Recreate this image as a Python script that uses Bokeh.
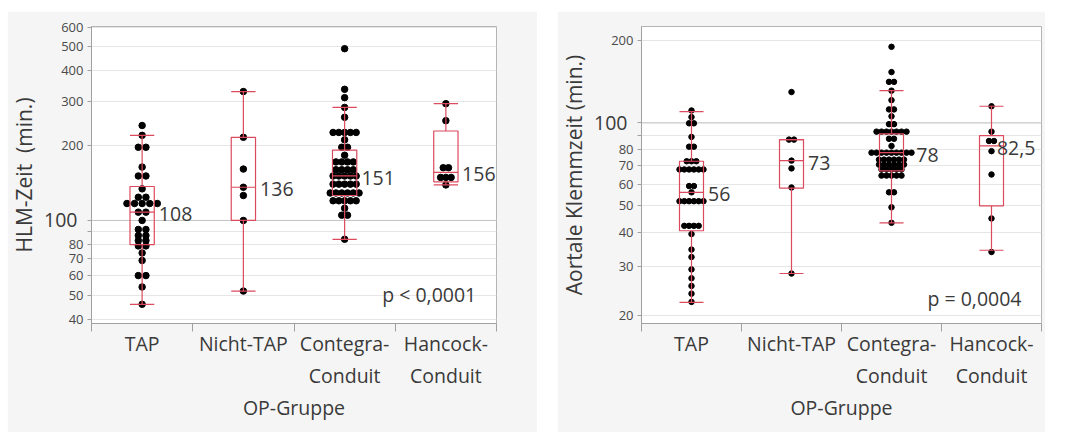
from bokeh.plotting import figure
from bokeh.models import FixedTicker, Span, Label, ColumnDataSource, Spacer, LogAxis
from bokeh.layouts import row, column
from bokeh.embed import file_html
from bokeh.resources import INLINE
from bokeh.core.properties import value
import math

# Groups (x axis)
groups = ["TAP", "Nicht-TAP", "Contegra-\nConduit", "Hancock-\nConduit"]

# HLM-Zeit (min.) per group
hlm_tap = [241, 220, 197, 197, 164, 151, 151, 134, 124, 124, 117, 117, 117, 117, 117,
           108, 108, 100, 92, 92, 87, 87, 83, 83, 79, 79, 74, 69, 60, 60, 54, 46]
hlm_nicht_tap = [330, 216, 161, 136, 126, 100, 52]
hlm_contegra = [491, 337, 312, 285, 260, 226, 226, 226, 226, 226, 211, 197, 197, 183,
                172, 172, 172, 172, 160, 160, 160, 160, 151, 151, 151, 151, 151,
                140, 140, 140, 140, 140, 129, 129, 129, 129, 129, 129,
                120, 120, 120, 120, 120, 112, 105, 105, 84]
hlm_hancock = [295, 252, 163, 163, 149, 149, 149, 139]

# Box statistics HLM: lower whisker, Q1, median, Q3, upper whisker
hlm_low = [46, 52, 84, 139]
hlm_q1 = [80, 100, 126, 143]
hlm_median = [108, 136, 151, 156]
hlm_q3 = [137, 216, 192, 229]
hlm_high = [220, 330, 285, 295]
hlm_median_text = ["108", "136", "151", "156"]
hlm_ticks = [40, 50, 60, 70, 80, 90, 100, 200, 300, 400, 500, 600]

# Aortale Klemmzeit (min.) per group
akz_tap = [111, 105, 99.7, 99.7, 89, 82, 82, 72.6, 72.6, 72.6,
           67.8, 67.8, 67.8, 67.8, 67.8, 67.8, 59, 59, 56,
           52, 52, 52, 52, 52, 52, 42.3, 42.3, 42.3, 42.3,
           39.5, 34.7, 32.6, 29.4, 27.3, 25.6, 24, 22.4]
akz_nicht_tap = [129.5, 87, 87, 73, 68.4, 58.3, 28.4]
akz_contegra = [189, 153, 141, 141, 131, 121, 112, 112, 105.7, 99, 99,
                93, 93, 93, 93, 93, 93, 93, 87.6, 87.6, 82.5,
                78, 78, 78, 78, 78, 78, 78, 78, 78,
                73.6, 73.6, 73.6, 73.6, 73.6, 73.6,
                70.6, 70.6, 70.6, 70.6, 70.6, 70.6,
                67.8, 67.8, 67.8, 67.8, 67.8,
                64.4, 64.4, 64.4, 64.4, 64.4, 56, 56, 49.4, 43.4]
akz_hancock = [115, 93, 86, 86, 79, 65, 45, 34]

akz_low = [22.3, 28.4, 43.4, 34.5]
akz_q1 = [40.6, 58, 67, 50]
akz_median = [56, 73, 78, 82.5]
akz_q3 = [72.6, 87, 91.3, 90]
akz_high = [110, 87, 131, 115]
akz_median_text = ["56", "73", "78", "82,5"]
akz_ticks = [20, 30, 40, 50, 60, 70, 80, 90, 100, 200]

FONT = "Open Sans"
TEXT = "#3a3a3a"
BOX = "#dc4a5e"
PANEL = "#f5f5f5"
FS = "19.5px"
FS_PX = 19.5
HEIGHT = 421


def swarm(samples, steps):
    """Spread equal values side by side around the group centre."""
    xs, ys = [], []
    for gi, vals in enumerate(samples):
        for v in sorted(set(vals)):
            n = vals.count(v)
            for k in range(n):
                xs.append(gi + 0.5 + (k - (n - 1) / 2) * steps[gi])
                ys.append(v)
    return xs, ys


def panel(samples, low, q1, med, q3, high, med_text, ticks, yrange, ylabel,
          ptext, ptext_y, width, borders, dot_size, steps):
    left, right, top, bottom = borders
    p = figure(width=width, height=HEIGHT, x_range=(0, 4), y_range=yrange,
               y_axis_type="log", output_backend="svg", toolbar_location=None,
               min_border_left=left, min_border_right=right,
               min_border_top=top, min_border_bottom=bottom,
               background_fill_color="white", border_fill_color=PANEL,
               outline_line_color="#b4b4b4")
    frame_w = width - left - right
    frame_h = HEIGHT - top - bottom

    # grid
    p.xgrid.visible = False
    p.ygrid.ticker = FixedTicker(ticks=ticks)
    p.ygrid.grid_line_color = "#e6e6e6"
    p.add_layout(Span(location=100, dimension="width", line_color="#c4c4c4",
                      line_width=1, level="underlay"))

    # y axis with the small tick labels
    ya = p.yaxis[0]
    ya.ticker = FixedTicker(ticks=ticks)
    overrides = {t: str(t) for t in ticks}
    overrides[90] = ""
    overrides[100] = ""
    ya.major_label_overrides = overrides
    ya.major_label_text_font = FONT
    ya.major_label_text_font_size = "13px"
    ya.major_label_text_color = "#4a4a4a"
    ya.major_label_standoff = 4
    ya.major_tick_out = 4
    ya.major_tick_in = 0
    ya.minor_tick_out = 0
    ya.minor_tick_in = 0
    ya.axis_line_color = "#a0a0a0"
    ya.major_tick_line_color = "#a0a0a0"

    # second y axis: the larger decade label 100 and the axis title
    big = LogAxis(ticker=FixedTicker(ticks=[100]))
    big.major_label_overrides = {100: "100"}
    big.major_label_text_font = FONT
    big.major_label_text_font_size = FS
    big.major_label_text_color = TEXT
    big.major_label_standoff = -19
    big.major_tick_out = 0
    big.major_tick_in = 0
    big.minor_tick_out = 0
    big.minor_tick_in = 0
    big.axis_line_color = None
    big.major_tick_line_color = None
    big.minor_tick_line_color = None
    big.axis_label = ylabel
    big.axis_label_text_font = FONT
    big.axis_label_text_font_size = "21px"
    big.axis_label_text_font_style = "normal"
    big.axis_label_text_color = TEXT
    big.axis_label_standoff = 3
    p.add_layout(big, "left")

    # x axis: labels in the group centres, ticks at the group borders
    xa = p.xaxis[0]
    xa.ticker = FixedTicker(ticks=[0.5, 1.5, 2.5, 3.5], minor_ticks=[0, 1, 2, 3, 4])
    xa.major_label_overrides = {i + 0.5: g for i, g in enumerate(groups)}
    xa.major_label_text_font = FONT
    xa.major_label_text_font_size = FS
    xa.major_label_text_color = TEXT
    xa.major_label_standoff = -2
    xa.major_tick_out = 0
    xa.major_tick_in = 0
    xa.minor_tick_out = 8
    xa.minor_tick_in = 0
    xa.minor_tick_line_color = "#a0a0a0"
    xa.axis_line_color = "#a0a0a0"
    xa.axis_label = "OP-Gruppe"
    xa.axis_label_text_font = FONT
    xa.axis_label_text_font_size = FS
    xa.axis_label_text_font_style = "normal"
    xa.axis_label_text_color = TEXT
    xa.axis_label_standoff = 2

    # points
    xs, ys = swarm(samples, steps)
    p.scatter(xs, ys, size=dot_size, color="black")

    # box plots
    cx = [i + 0.5 for i in range(4)]
    hw = 0.12
    # median text sits right of the box, or right of the dots in the median row,
    # and is kept inside the frame
    lo, hi = math.log10(yrange[0]), math.log10(yrange[1])
    tol = 4 / frame_h * (hi - lo)
    rad = dot_size / 2 / frame_w * 4
    tx = []
    for gi, c in enumerate(cx):
        edge = c + hw + 0.045
        for x, y in zip(xs, ys):
            if abs(x - c) < 0.5 and abs(math.log10(y) - math.log10(med[gi])) < tol:
                edge = max(edge, x + rad + 0.02)
        est_w = 0.52 * FS_PX * len(med_text[gi]) + 4
        edge = min(edge, 4 - est_w / frame_w * 4)
        tx.append(edge)
    src = ColumnDataSource(dict(
        x=cx, x0=[c - hw for c in cx], x1=[c + hw for c in cx],
        low=low, q1=q1, med=med, q3=q3, high=high, tx=tx, label=med_text))
    line = dict(source=src, line_color=BOX, line_width=1.2)
    p.quad(left="x0", right="x1", bottom="q1", top="q3", fill_alpha=0, **line)
    p.segment(x0="x", x1="x", y0="low", y1="q1", **line)
    p.segment(x0="x", x1="x", y0="q3", y1="high", **line)
    p.segment(x0="x0", x1="x1", y0="low", y1="low", **line)
    p.segment(x0="x0", x1="x1", y0="high", y1="high", **line)
    p.segment(x0="x0", x1="x1", y0="med", y1="med", **line)
    p.text(x="tx", y="med", text="label", source=src, text_font=value(FONT),
           text_font_size=FS, text_color=TEXT, text_baseline="middle",
           text_align="left", y_offset=2)

    p.add_layout(Label(x=3.8, y=ptext_y, text=ptext, text_align="right",
                       text_baseline="middle", text_font=FONT,
                       text_font_size=FS, text_color=TEXT))
    return p


p1 = panel([hlm_tap, hlm_nicht_tap, hlm_contegra, hlm_hancock],
           hlm_low, hlm_q1, hlm_median, hlm_q3, hlm_high, hlm_median_text,
           hlm_ticks, (38.5, 603), "HLM-Zeit\u00a0 (min.)",
           "p < 0,0001", 50.2, 530, (84, 41, 13, 109), 6.5,
           [0.075, 0.06, 0.057, 0.052])
p2 = panel([akz_tap, akz_nicht_tap, akz_contegra, akz_hancock],
           akz_low, akz_q1, akz_median, akz_q3, akz_high, akz_median_text,
           akz_ticks, (18.7, 224), "Aortale Klemmzeit (min.)",
           "p = 0,0004", 23.1, 488, (84, 4, 15, 105), 5.5,
           [0.048, 0.05, 0.05, 0.05])

layout = column(Spacer(height=11),
                row(Spacer(width=7), p1, Spacer(width=20), p2))

open("out.html", "w").write(file_html(layout, INLINE))
